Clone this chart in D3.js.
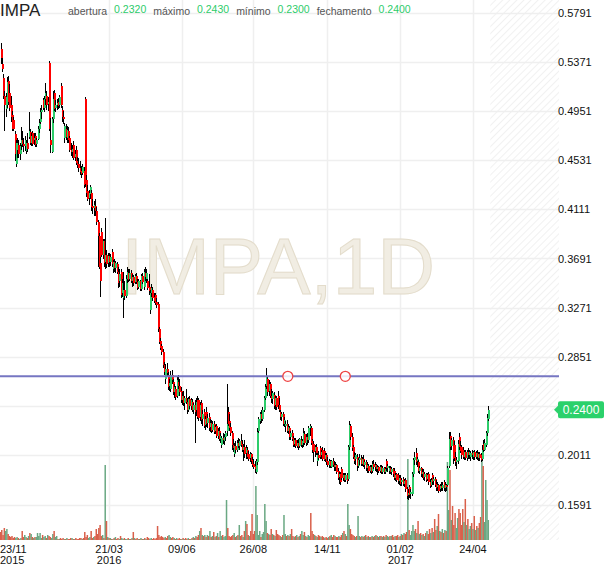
<!DOCTYPE html>
<html><head><meta charset="utf-8">
<script src="https://cdn.jsdelivr.net/npm/d3@7"></script>
<style>body{margin:0;background:#fff}svg{display:block;font-family:Arial,"Liberation Sans",sans-serif}</style>
</head><body><svg id="c" width="610" height="568"></svg>
<script>
// ---- data (daily candles 23/11/2015 .. 05/2017) ----
const open=[.548,.535,.523,.508,.497,.500,.521,.510,.500,.492,.487,.475,.450,.462,.466,.458,.466,.470,.467,.465,
.461,.468,.473,.477,.468,.476,.470,.474,.467,.471,.480,.486,.494,.504,.498,.505,.508,.501,.536,.470,
.460,.488,.510,.498,.500,.503,.500,.516,.496,.490,.472,.480,.472,.478,.472,.462,.460,.466,.456,.462,
.452,.450,.446,.444,.442,.444,.505,.436,.427,.421,.424,.425,.414,.412,.414,.410,.400,.388,.365,.392,
.372,.384,.366,.372,.365,.371,.366,.375,.360,.366,.361,.364,.358,.350,.358,.340,.335,.342,.337,.352,
.357,.352,.357,.350,.353,.349,.354,.349,.345,.350,.343,.354,.345,.357,.352,.350,.345,.325,.340,.342,
.336,.338,.332,.330,.309,.299,.294,.289,.278,.266,.275,.270,.260,.258,.270,.264,.255,.258,.252,.264,
.260,.256,.248,.252,.246,.250,.247,.240,.249,.243,.247,.240,.244,.240,.248,.248,.234,.246,.232,.238,
.227,.238,.229,.234,.225,.229,.223,.228,.222,.226,.218,.222,.215,.210,.216,.213,.217,.222,.238,.230,
.225,.220,.210,.202,.209,.206,.212,.209,.213,.211,.206,.208,.203,.206,.202,.199,.202,.197,.194,.192,
.187,.195,.222,.230,.236,.232,.240,.250,.260,.266,.256,.262,.252,.249,.253,.244,.250,.252,.244,.238,
.234,.236,.228,.226,.228,.222,.224,.217,.220,.216,.211,.214,.209,.212,.209,.214,.210,.212,.219,.212,
.217,.214,.224,.224,.213,.211,.205,.208,.196,.201,.207,.201,.206,.205,.198,.201,.196,.193,.196,.191,
.196,.193,.191,.193,.188,.183,.185,.189,.182,.184,.180,.184,.181,.208,.226,.217,.208,.200,.198,.200,
.192,.197,.199,.194,.198,.193,.195,.190,.192,.188,.191,.188,.194,.191,.193,.189,.191,.188,.191,.187,
.190,.187,.196,.190,.188,.190,.187,.189,.188,.182,.185,.184,.179,.182,.178,.181,.177,.180,.172,.167,
.174,.168,.168,.185,.197,.203,.196,.195,.188,.190,.185,.187,.183,.185,.181,.185,.178,.176,.184,.179,
.181,.177,.174,.176,.172,.175,.173,.178,.173,.176,.176,.192,.218,.209,.214,.210,.200,.195,.196,.217,
.209,.208,.206,.200,.204,.199,.204,.201,.200,.203,.200,.204,.200,.203,.199,.202,.201,.198,.211,.206,
.210,.220,.232];
const high=[.553,.540,.527,.512,.510,.524,.525,.518,.508,.495,.490,.478,.470,.472,.470,.468,.481,.478,.472,.474,
.470,.476,.494,.480,.476,.478,.476,.476,.472,.482,.488,.498,.500,.506,.508,.519,.512,.507,.538,.489,
.490,.512,.513,.504,.505,.506,.509,.519,.499,.495,.485,.484,.482,.481,.474,.468,.466,.469,.462,.465,
.456,.455,.452,.448,.450,.447,.507,.440,.432,.428,.432,.428,.420,.418,.420,.413,.402,.391,.370,.395,
.386,.386,.404,.376,.374,.374,.373,.377,.368,.369,.367,.366,.362,.360,.360,.352,.358,.350,.355,.362,
.360,.360,.359,.356,.355,.356,.357,.352,.352,.351,.356,.357,.360,.362,.360,.352,.356,.342,.347,.345,
.340,.340,.335,.332,.311,.301,.296,.292,.281,.279,.280,.272,.266,.273,.274,.266,.262,.260,.268,.270,
.266,.259,.255,.256,.252,.258,.250,.251,.252,.250,.249,.246,.248,.250,.252,.250,.247,.248,.240,.241,
.235,.242,.236,.237,.232,.231,.230,.230,.227,.228,.224,.225,.220,.218,.220,.219,.222,.262,.242,.236,
.229,.222,.215,.212,.213,.214,.216,.215,.219,.214,.211,.214,.210,.208,.205,.204,.203,.200,.198,.196,
.198,.224,.234,.238,.240,.242,.252,.262,.276,.268,.265,.264,.258,.256,.255,.252,.252,.256,.250,.240,
.238,.238,.234,.230,.231,.228,.226,.222,.223,.218,.216,.216,.214,.215,.216,.218,.215,.224,.222,.219,
.220,.226,.228,.226,.215,.213,.210,.211,.203,.205,.209,.206,.208,.207,.203,.203,.200,.198,.197,.197,
.199,.196,.195,.194,.190,.187,.187,.191,.186,.186,.186,.186,.210,.230,.228,.220,.210,.204,.203,.202,
.199,.202,.201,.200,.201,.197,.197,.195,.194,.193,.193,.196,.197,.195,.194,.193,.192,.193,.193,.192,
.191,.191,.198,.194,.192,.192,.191,.190,.190,.186,.186,.186,.184,.184,.182,.183,.181,.182,.174,.172,
.176,.172,.187,.199,.204,.207,.200,.197,.192,.191,.189,.189,.187,.186,.186,.187,.181,.182,.186,.183,
.183,.180,.178,.177,.177,.178,.178,.180,.178,.177,.192,.221,.221,.216,.217,.213,.204,.200,.214,.220,
.213,.210,.208,.206,.206,.206,.207,.206,.205,.206,.205,.206,.205,.206,.204,.204,.203,.210,.214,.215,
.222,.236,.243];
const low=[.535,.528,.505,.478,.490,.498,.500,.495,.486,.478,.478,.452,.447,.455,.455,.453,.462,.464,.460,.461,
.458,.460,.471,.466,.465,.465,.466,.464,.464,.470,.476,.484,.488,.496,.494,.500,.496,.495,.478,.459,
.459,.485,.495,.494,.496,.497,.498,.498,.486,.484,.468,.470,.468,.468,.460,.457,.455,.453,.452,.449,
.446,.443,.440,.438,.440,.429,.430,.422,.418,.415,.420,.410,.407,.405,.405,.398,.362,.360,.336,.370,
.369,.362,.360,.361,.362,.362,.363,.362,.357,.358,.357,.356,.344,.345,.335,.336,.318,.334,.335,.348,
.349,.350,.348,.345,.346,.347,.347,.342,.343,.341,.341,.347,.342,.350,.348,.342,.338,.322,.336,.333,
.331,.329,.327,.306,.296,.291,.287,.276,.270,.262,.268,.257,.256,.255,.262,.253,.250,.248,.250,.258,
.252,.246,.244,.243,.240,.245,.236,.238,.241,.240,.238,.236,.212,.235,.232,.230,.230,.228,.226,.224,
.223,.225,.224,.222,.221,.220,.221,.219,.219,.216,.215,.213,.212,.207,.211,.210,.213,.218,.226,.222,
.218,.206,.204,.200,.203,.204,.207,.206,.208,.204,.196,.199,.198,.198,.196,.195,.194,.191,.189,.186,
.185,.193,.220,.228,.229,.230,.238,.248,.258,.252,.252,.250,.246,.245,.241,.240,.240,.241,.238,.231,
.230,.226,.225,.221,.220,.219,.214,.214,.213,.208,.208,.207,.207,.206,.207,.208,.207,.208,.210,.209,
.210,.212,.218,.210,.203,.195,.200,.201,.192,.197,.198,.198,.196,.196,.195,.193,.191,.190,.190,.190,
.191,.188,.188,.185,.180,.177,.176,.180,.179,.178,.178,.177,.179,.206,.214,.205,.198,.194,.193,.188,
.190,.193,.192,.192,.191,.189,.188,.186,.186,.186,.185,.186,.189,.188,.187,.184,.186,.186,.185,.185,
.185,.185,.188,.187,.185,.185,.184,.183,.180,.179,.178,.177,.176,.175,.175,.175,.174,.170,.164,.163,
.165,.164,.166,.183,.193,.193,.191,.186,.185,.183,.182,.180,.179,.178,.179,.176,.173,.174,.176,.176,
.174,.171,.171,.169,.170,.171,.171,.171,.170,.171,.175,.190,.206,.206,.194,.196,.192,.189,.194,.206,
.203,.198,.198,.197,.197,.196,.198,.198,.196,.198,.197,.197,.198,.197,.196,.196,.195,.196,.204,.205,
.208,.218,.230];
const close=[.540,.531,.508,.500,.507,.520,.503,.498,.490,.480,.480,.458,.468,.468,.458,.465,.470,.467,.465,.470,
.468,.463,.478,.468,.474,.467,.472,.466,.470,.480,.485,.494,.496,.498,.505,.510,.500,.503,.480,.466,
.488,.505,.497,.500,.502,.499,.507,.500,.490,.488,.482,.473,.479,.470,.462,.460,.463,.455,.458,.451,
.449,.446,.443,.441,.447,.432,.433,.425,.420,.425,.430,.413,.412,.415,.410,.400,.388,.362,.350,.372,
.384,.365,.372,.364,.371,.366,.370,.364,.366,.361,.365,.358,.348,.356,.338,.348,.342,.337,.352,.358,
.351,.357,.350,.353,.348,.354,.349,.344,.350,.343,.354,.349,.358,.353,.357,.344,.341,.340,.344,.335,
.333,.331,.329,.309,.298,.293,.289,.278,.272,.275,.271,.259,.263,.270,.265,.255,.259,.251,.265,.260,
.255,.248,.252,.246,.250,.247,.240,.249,.243,.248,.240,.244,.238,.247,.234,.233,.244,.231,.236,.226,
.232,.228,.233,.224,.229,.222,.228,.221,.225,.218,.222,.215,.218,.216,.214,.217,.220,.228,.228,.224,
.220,.210,.207,.209,.206,.212,.209,.213,.210,.206,.208,.202,.207,.200,.198,.202,.196,.193,.191,.189,
.196,.221,.232,.236,.232,.240,.250,.259,.268,.255,.262,.252,.249,.254,.243,.250,.242,.244,.240,.234,
.236,.228,.231,.228,.222,.225,.217,.220,.215,.210,.214,.209,.212,.208,.215,.210,.213,.220,.212,.217,
.214,.224,.226,.212,.206,.204,.208,.203,.201,.199,.200,.204,.198,.197,.201,.195,.193,.196,.192,.196,
.193,.191,.193,.187,.182,.185,.178,.182,.184,.180,.184,.179,.208,.227,.217,.207,.200,.196,.201,.192,
.197,.199,.194,.198,.193,.195,.190,.193,.188,.191,.187,.194,.191,.193,.189,.191,.188,.191,.187,.190,
.187,.189,.190,.192,.190,.187,.189,.185,.182,.184,.180,.179,.182,.177,.180,.177,.179,.172,.166,.169,
.167,.170,.185,.197,.200,.195,.198,.188,.190,.185,.187,.182,.185,.180,.184,.178,.175,.180,.178,.181,
.176,.173,.176,.171,.175,.173,.176,.173,.176,.174,.190,.215,.208,.214,.198,.199,.195,.197,.211,.208,
.205,.201,.200,.204,.199,.204,.201,.204,.203,.201,.204,.200,.203,.200,.202,.199,.197,.206,.206,.212,
.220,.233,.240];
const volume=[8,10,5,12,9,11,6,4,3,4, 2,3,2,3,2,1,2,9,3,5, 3,2,4,7,6,3,2,3,3,7, 4,7,2,5,3,4,2,5,4,3,
2,6,9,3,4,1,1,2,1,2, 1,1,2,1,1,2,2,1,1,2, 1,1,2,2,1,2,8,3,5,2, 3,9,2,3,4,11,6,12,15,4,
5,2,75,19,3,2,2,1,1,2, 3,1,2,1,4,2,1,2,1,1, 2,1,1,2,8,2,1,2,1,1, 2,1,1,2,1,3,2,1,2,1,
2,1,2,14,5,3,4,3,2,3, 2,4,5,3,2,3,2,1,2,1, 2,1,1,2,1,2,1,2,1,1, 2,3,2,4,3,5,9,12,5,4,
5,3,5,4,9,3,4,8,3,4, 7,3,9,4,5,3,4,40,12,4, 3,4,5,7,3,4,5,15,4,5, 3,9,19,16,5,4,9,26,6,9,
54,25,5,9,3,6,8,36,19,7, 6,5,11,6,5,4,10,6,5,4, 3,5,25,6,4,5,4,6,11,4, 3,4,5,3,4,6,9,5,8,4,
3,5,4,27,9,6,5,4,3,5, 4,3,4,3,2,3,2,3,4,5, 3,5,4,3,3,4,3,5,7,9, 6,4,36,15,11,6,5,4,3,4,
24,4,3,4,3,4,5,3,4,3, 3,4,3,4,5,4,3,4,4,3, 4,3,5,4,3,4,4,5,3,4, 4,5,3,4,6,5,7,6,8,81,
10,5,9,15,9,11,7,19,6,7, 5,6,4,7,9,6,11,7,12,8, 21,10,14,26,9,8,11,7,10,9, 78,30,70,20,34,15,27,12,22,31,
27,15,31,18,41,15,21,11,14,17, 11,24,10,14,12,17,23,80,74,18, 60,40,20];
const tickIndex=[0,85,142,198,256,313,370];
const tickDay=["23/11","21/03","09/06","26/08","14/11","01/02","24/04"];
const tickYear=["2015","2016","","","","2017",""];
const priceTicks=[0.1591,0.2011,0.2431,0.2851,0.3271,0.3691,0.4111,0.4531,0.4951,0.5371,0.5791];
const alertLevel=0.2685;
const alertIndex=[225,270];
const symbol="IMPA", watermark="IMPA,1D";
const headerLabels=["abertura","máximo","mínimo","fechamento"];
const headerValues=["0.2320","0.2430","0.2300","0.2400"];

// ---- layout ----
const N=close.length;
const plotRight=559, volBase=540, volH=81;
const svg=d3.select("#c");
const x=d3.scaleLinear().domain([0,N-1]).range([0.5,488.3]);
const y=d3.scaleLinear().domain([0.1591,0.5791]).range([504.5,12.5]);
const yv=d3.scaleLinear().domain([0,d3.max(volume)]).range([volBase,volBase-volH]);
const GREEN="#2dcc6a", RED="#ff0000";

// hatch pattern for future area
const defs=svg.append("defs");
const pat=defs.append("pattern").attr("id","hatch").attr("patternUnits","userSpaceOnUse")
 .attr("width",5).attr("height",5).attr("patternTransform","rotate(45)");
pat.append("line").attr("x1",0).attr("y1",0).attr("x2",0).attr("y2",5).attr("stroke","#e4e4e4").attr("stroke-width",1);
const hx=x(N-1)+2;
svg.append("rect").attr("x",hx).attr("y",0).attr("width",plotRight-hx).attr("height",volBase).attr("fill","url(#hatch)");

// grid
svg.append("g").selectAll("line").data(priceTicks).join("line")
 .attr("x1",0).attr("x2",plotRight).attr("y1",d=>Math.round(y(d))+0.5).attr("y2",d=>Math.round(y(d))+0.5)
 .attr("stroke","#efefef").attr("stroke-width",1.5);
svg.append("g").selectAll("line").data(tickIndex.slice(1)).join("line")
 .attr("x1",d=>Math.round(x(d))+0.5).attr("x2",d=>Math.round(x(d))+0.5).attr("y1",0).attr("y2",volBase)
 .attr("stroke","#efefef").attr("stroke-width",1.5);

// watermark
svg.append("text").attr("x",278).attr("y",294).attr("text-anchor","middle")
 .attr("font-size",80).attr("fill","#f1ede3").attr("stroke","#e3dccb").attr("stroke-width",1)
 .text(watermark);

// volume
svg.append("g").selectAll("rect").data(volume).join("rect")
 .attr("x",(d,i)=>x(i)-0.75).attr("width",1.5)
 .attr("y",d=>yv(d)).attr("height",d=>volBase-yv(d))
 .attr("fill",(d,i)=>close[i]>=open[i]?"#6aa883":"#d9604b");

// candles
const cg=svg.append("g").attr("shape-rendering","crispEdges");
for(let i=0;i<N;i++){
  const cx=Math.round(x(i));
  cg.append("line").attr("x1",cx+0.5).attr("x2",cx+0.5).attr("y1",y(high[i])).attr("y2",y(low[i]))
    .attr("stroke","#000").attr("stroke-width",1);
  const top=y(Math.max(open[i],close[i])), bot=y(Math.min(open[i],close[i]));
  cg.append("rect").attr("x",cx).attr("width",2).attr("y",top).attr("height",Math.max(1,bot-top))
    .attr("fill",close[i]>=open[i]?GREEN:RED);
}

// alert line & markers
svg.append("line").attr("x1",0).attr("x2",plotRight).attr("y1",y(alertLevel)).attr("y2",y(alertLevel))
 .attr("stroke","#7676c2").attr("stroke-width",2);
svg.append("g").selectAll("circle").data(alertIndex).join("circle")
 .attr("cx",d=>x(d)).attr("cy",y(alertLevel)).attr("r",5)
 .attr("fill","rgba(255,255,255,0.85)").attr("stroke","#ee4444").attr("stroke-width",1.3);

// right axis labels
const lastY=y(close[N-1]);
svg.append("g").selectAll("text").data(priceTicks.filter(t=>Math.abs(y(t)-lastY)>10)).join("text")
 .attr("x",558).attr("y",d=>y(d)+4).attr("font-size",11).attr("fill","#111").text(d=>d.toFixed(4));

// last price label
const lg=svg.append("g");
lg.append("path").attr("d",`M554,${lastY} L558,${lastY-4} L558,${lastY-6.5} Q558,${lastY-8.5} 560,${lastY-8.5} L602,${lastY-8.5} Q604,${lastY-8.5} 604,${lastY-6.5} L604,${lastY+6.5} Q604,${lastY+8.5} 602,${lastY+8.5} L560,${lastY+8.5} Q558,${lastY+8.5} 558,${lastY+6.5} L558,${lastY+4} Z`)
 .attr("fill","#2bd16b");
lg.append("text").attr("x",581).attr("y",lastY+4.5).attr("text-anchor","middle").attr("font-size",12)
 .attr("fill","#fff").text(close[N-1].toFixed(4));

// date labels
const dg=svg.append("g").attr("font-size",11).attr("fill","#111");
tickIndex.forEach((t,k)=>{
  const first=k===0;
  const tx=first?0:x(t);
  const anchor=first?"start":"middle";
  dg.append("text").attr("x",tx).attr("y",553).attr("text-anchor",anchor).text(tickDay[k]);
  if(tickYear[k]) dg.append("text").attr("x",tx).attr("y",564).attr("text-anchor",anchor).text(tickYear[k]);
});

// header
svg.append("text").attr("x",0).attr("y",16).attr("font-size",17).attr("fill","#222").text(symbol);
let hxp=68;
headerLabels.forEach((lab,k)=>{
  const t1=svg.append("text").attr("x",hxp).attr("y",15).attr("font-size",10.5).attr("fill","#555").text(lab);
  hxp+=t1.node().getComputedTextLength()+7;
  const t2=svg.append("text").attr("x",hxp).attr("y",12.5).attr("font-size",10.5).attr("fill","#2dcc6a").text(headerValues[k]);
  hxp+=t2.node().getComputedTextLength()+7;
});
</script></body></html>
